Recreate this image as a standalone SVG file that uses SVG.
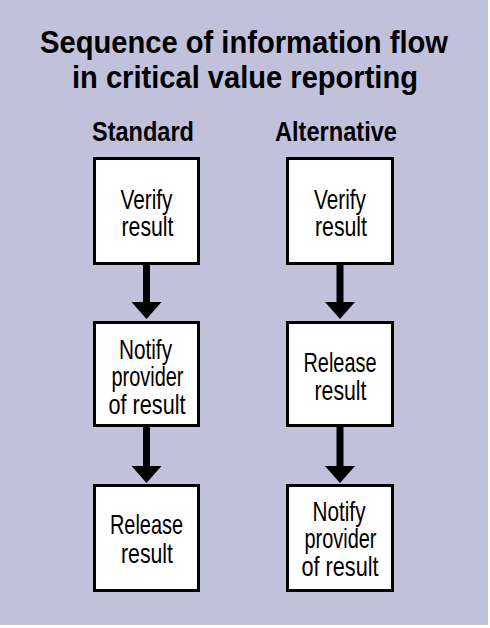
<svg xmlns="http://www.w3.org/2000/svg" width="490" height="628" viewBox="0 0 490 628">
  <style>
    .title { font-family: "Liberation Sans", Arial, sans-serif; font-weight: bold; font-size: 32px; fill: #000; text-anchor: middle; }
    .head { font-family: "Liberation Sans", Arial, sans-serif; font-weight: bold; font-size: 27px; fill: #000; text-anchor: middle; }
    .lbl { font-family: "Liberation Sans", Arial, sans-serif; font-size: 28px; fill: #000; text-anchor: middle; }
    .box { fill: #ffffff; stroke: #000; stroke-width: 3; }
    .conn { stroke: #000; stroke-width: 7; fill: none; }
  </style>
  <defs>
    <marker id="ah" viewBox="0 0 17 30" refX="0" refY="15" markerWidth="17" markerHeight="30" markerUnits="userSpaceOnUse" orient="auto">
      <path d="M0,0 L17,15 L0,30 Z" fill="#000"/>
    </marker>
  </defs>
  <rect x="0" y="0" width="490" height="628" fill="#ffffff"/>
  <rect x="0" y="0" width="488" height="625" fill="#c1c1dc"/>

  <g id="title">
    <text class="title" x="244" y="53" textLength="408" lengthAdjust="spacingAndGlyphs">Sequence of information flow</text>
    <text class="title" x="245" y="88" textLength="346" lengthAdjust="spacingAndGlyphs">in critical value reporting</text>
  </g>
  <g id="headers">
    <text class="head" x="143" y="141" textLength="102" lengthAdjust="spacingAndGlyphs">Standard</text>
    <text class="head" x="336" y="141" textLength="122" lengthAdjust="spacingAndGlyphs">Alternative</text>
  </g>

  <g id="connectors">
    <line class="conn" x1="146.5" y1="265" x2="146.5" y2="302" marker-end="url(#ah)"/>
    <line class="conn" x1="146.5" y1="427" x2="146.5" y2="466" marker-end="url(#ah)"/>
    <line class="conn" x1="340" y1="265" x2="340" y2="302" marker-end="url(#ah)"/>
    <line class="conn" x1="340" y1="427" x2="340" y2="466" marker-end="url(#ah)"/>
  </g>

  <g id="std-verify">
    <rect class="box" x="94.5" y="158.5" width="104" height="105"/>
    <text class="lbl" x="146.5" y="208.5" textLength="52" lengthAdjust="spacingAndGlyphs">Verify</text>
    <text class="lbl" x="147.5" y="236" textLength="52" lengthAdjust="spacingAndGlyphs">result</text>
  </g>
  <g id="std-notify">
    <rect class="box" x="94.5" y="322.5" width="104" height="103"/>
    <text class="lbl" x="145.5" y="358.5" textLength="53" lengthAdjust="spacingAndGlyphs">Notify</text>
    <text class="lbl" x="147.5" y="386" textLength="72" lengthAdjust="spacingAndGlyphs">provider</text>
    <text class="lbl" x="147" y="413.5" textLength="77" lengthAdjust="spacingAndGlyphs">of result</text>
  </g>
  <g id="std-release">
    <rect class="box" x="94.5" y="485.5" width="104" height="105"/>
    <text class="lbl" x="146.5" y="534" textLength="73" lengthAdjust="spacingAndGlyphs">Release</text>
    <text class="lbl" x="147" y="563" textLength="52" lengthAdjust="spacingAndGlyphs">result</text>
  </g>

  <g id="alt-verify">
    <rect class="box" x="287.5" y="158.5" width="105" height="105"/>
    <text class="lbl" x="340" y="208.5" textLength="52" lengthAdjust="spacingAndGlyphs">Verify</text>
    <text class="lbl" x="341" y="236" textLength="52" lengthAdjust="spacingAndGlyphs">result</text>
  </g>
  <g id="alt-release">
    <rect class="box" x="287.5" y="322.5" width="105" height="103"/>
    <text class="lbl" x="340" y="371.5" textLength="73" lengthAdjust="spacingAndGlyphs">Release</text>
    <text class="lbl" x="340.5" y="400" textLength="52" lengthAdjust="spacingAndGlyphs">result</text>
  </g>
  <g id="alt-notify">
    <rect class="box" x="287.5" y="485.5" width="105" height="105"/>
    <text class="lbl" x="339" y="520.5" textLength="53" lengthAdjust="spacingAndGlyphs">Notify</text>
    <text class="lbl" x="340.5" y="548" textLength="72" lengthAdjust="spacingAndGlyphs">provider</text>
    <text class="lbl" x="340" y="576" textLength="77" lengthAdjust="spacingAndGlyphs">of result</text>
  </g>
</svg>
